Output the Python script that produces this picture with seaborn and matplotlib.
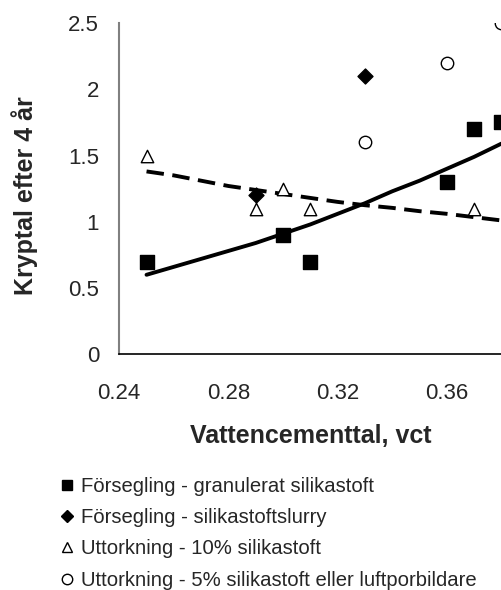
import matplotlib
matplotlib.use("Agg")
import matplotlib.pyplot as plt
from matplotlib.lines import Line2D
import pandas as pd
import seaborn as sns

# measured points
gran_x = [0.25, 0.30, 0.31, 0.36, 0.37, 0.38]
gran_y = [0.70, 0.90, 0.70, 1.30, 1.70, 1.75]
slurry_x = [0.29, 0.33]
slurry_y = [1.20, 2.10]
sf10_x = [0.25, 0.29, 0.30, 0.31, 0.37]
sf10_y = [1.50, 1.10, 1.25, 1.10, 1.10]
sf5_x = [0.33, 0.36, 0.38]
sf5_y = [1.60, 2.20, 2.50]

# trend lines
trend_x = [0.25, 0.26, 0.27, 0.28, 0.29, 0.30, 0.31, 0.32, 0.33, 0.34, 0.35, 0.36, 0.37, 0.38]
trend_solid = [0.60, 0.66, 0.72, 0.78, 0.84, 0.91, 0.98, 1.06, 1.14, 1.23, 1.31, 1.40, 1.49, 1.59]
trend_dash = [1.38, 1.35, 1.31, 1.27, 1.24, 1.21, 1.18, 1.15, 1.125, 1.105, 1.08, 1.06, 1.035, 1.01]

labels = [
    "Försegling - granulerat silikastoft",
    "Försegling - silikastoftslurry",
    "Uttorkning - 10% silikastoft",
    "Uttorkning - 5% silikastoft eller luftporbildare",
]

sns.set_style("white")
plt.rcParams["font.family"] = ["Liberation Sans", "DejaVu Sans"]

fig = plt.figure(figsize=(5.02, 5.90), dpi=100)
ax = fig.add_axes([0.2375, 0.3995, 0.7625, 0.5615])

lines = pd.DataFrame({"x": trend_x * 2,
                      "y": trend_solid + trend_dash,
                      "kind": ["solid"] * len(trend_x) + ["dash"] * len(trend_x)})
sns.lineplot(data=lines[lines.kind == "solid"], x="x", y="y", ax=ax,
             color="black", lw=2.8, legend=False)
sns.lineplot(data=lines[lines.kind == "dash"], x="x", y="y", ax=ax,
             color="black", lw=2.8, dashes=False, legend=False)
ax.lines[-1].set_dashes([4.5, 2.2])

pts = pd.DataFrame({
    "x": gran_x + slurry_x + sf10_x + sf5_x,
    "y": gran_y + slurry_y + sf10_y + sf5_y,
    "grp": [labels[0]] * len(gran_x) + [labels[1]] * len(slurry_x)
    + [labels[2]] * len(sf10_x) + [labels[3]] * len(sf5_x),
})
styles = [("s", "black", 95), ("D", "black", 58), ("^", "white", 80), ("o", "white", 80)]
for lab, (mk, fc, sz) in zip(labels, styles):
    sub = pts[pts.grp == lab]
    sns.scatterplot(data=sub, x="x", y="y", ax=ax, marker=mk, s=sz,
                    color=fc, edgecolor="black", linewidth=1.0, zorder=5,
                    legend=False, clip_on=True)

ax.set_xlim(0.24, 0.3802)
ax.set_ylim(0, 2.5)
ax.set_xticks([0.24, 0.28, 0.32, 0.36])
ax.set_xticklabels(["0.24", "0.28", "0.32", "0.36"])
ax.set_yticks([0, 0.5, 1, 1.5, 2, 2.5])
ax.set_yticklabels(["0", "0.5", "1", "1.5", "2", "2.5"])

for s in ("top", "right"):
    ax.spines[s].set_visible(False)
ax.spines["left"].set_color("#808080")
ax.spines["left"].set_linewidth(1.5)
ax.spines["bottom"].set_color("black")
ax.spines["bottom"].set_linewidth(1.2)
ax.tick_params(axis="y", direction="inout", length=13, width=1.0, color="#333333",
               labelsize=16, pad=8)
ax.tick_params(axis="x", direction="inout", length=16, width=1.0, color="#333333",
               labelsize=16, pad=13)

ax.set_xlabel("Vattencementtal, vct", fontsize=18, fontweight="bold", labelpad=14)
ax.set_ylabel("Kryptal efter 4 år", fontsize=18, fontweight="bold", labelpad=22,
              y=0.478)

handles = [
    Line2D([], [], ls="", marker="s", ms=7.5, mfc="black", mec="black"),
    Line2D([], [], ls="", marker="D", ms=6, mfc="black", mec="black"),
    Line2D([], [], ls="", marker="^", ms=7.5, mfc="white", mec="black", mew=1.0),
    Line2D([], [], ls="", marker="o", ms=7.5, mfc="white", mec="black", mew=1.0),
]
fig.legend(handles, labels, loc="upper left", bbox_to_anchor=(0.105, 0.205),
           frameon=False, fontsize=14.6, handlelength=0.6, handletextpad=0.4,
           labelspacing=0.6, borderaxespad=0)

fig.savefig("out.png", dpi=100)
